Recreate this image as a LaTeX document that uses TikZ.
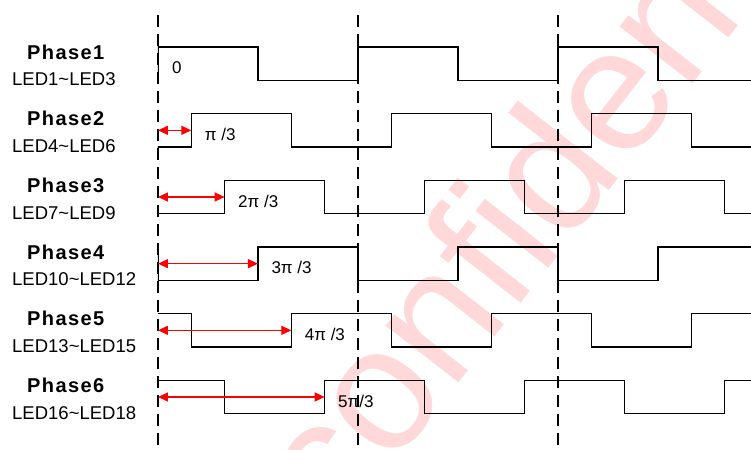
\documentclass[tikz,border=0pt]{standalone}
\usepackage{fontspec}
\setmainfont{Liberation Sans}
\newfontfamily\phasefont{Liberation Sans}[LetterSpace=7]
\usetikzlibrary{arrows.meta}

\begin{document}
\begin{tikzpicture}[x=33.333pt,y=-33.333pt,
  wave/.style={line width=1.4pt},
  sync/.style={line width=1.2pt,dash pattern=on 12pt off 7pt},
  lag/.style={red,line width=1.3pt,{Triangle[length=10pt,width=9pt]}-{Triangle[length=10pt,width=9pt]}},
  phasename/.style={anchor=west,inner sep=0pt,font=\phasefont\bfseries\fontsize{20}{24}\selectfont},
  ledname/.style={anchor=west,inner sep=0pt,font=\fontsize{18.5}{22}\selectfont},
  lagname/.style={anchor=west,inner sep=0pt,font=\fontsize{17}{20}\selectfont}]
\useasboundingbox (-4.74,-1.41) rectangle (17.79,12.06);
% watermark
\node[rotate=52,text=red!15,font=\fontsize{175}{175}\selectfont] (mark) at (12.1,3.1) {confidential};
% square waves, one row per phase
\begin{scope}
\clip (0,-2) rectangle (18,13);
\foreach \s in {0,...,5}
  \draw[wave] (\s-6,2*\s+1) \foreach \k in {1,...,4} {-- ++(0,-1) -- ++(3,0) -- ++(0,1) -- ++(3,0)};
\end{scope}
% period marks
\foreach \t in {0,6,12}
  \draw[sync] (\t,-0.96) -- (\t,12.1);
% row labels
\foreach \s in {0,...,5} {
  \pgfmathtruncatemacro\n{\s+1}
  \pgfmathtruncatemacro\a{3*\s+1}
  \pgfmathtruncatemacro\b{3*\s+3}
  \node[phasename] (phase\n) at (-3.93,2*\s+0.15) {Phase\n};
  \node[ledname] (led\n) at (-4.38,2*\s+0.97) {LED\a\textasciitilde LED\b};
}
% phase shifts
\node[lagname] (lag0) at (0.42,0.62) {0};
\foreach \s/\txt in {1/{π /3},2/{2π /3},3/{3π /3},4/{4π /3},5/{5π/3}} {
  \coordinate (start\s) at (0,2*\s+0.5);
  \coordinate (edge\s) at (\s,2*\s+0.5);
  \draw[lag] (start\s) -- (edge\s);
  \node[lagname] (lag\s) at (\s+0.4,2*\s+0.62) {\txt};
}
\end{tikzpicture}
\end{document}
